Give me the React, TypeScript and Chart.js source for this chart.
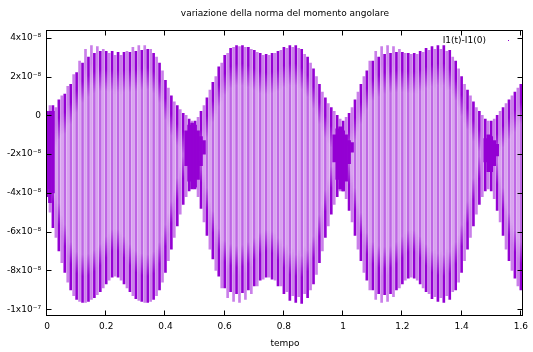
import { useEffect, useRef } from "react";
import { Chart, registerables } from "chart.js";

Chart.register(...registerables);

const TITLE = "variazione della norma del momento angolare";
const X_TITLE = "tempo";
const SERIES_LABEL = "I1(t)-I1(0)";
const SCALE = 1e-8;

const X_TICKS = [0, 0.2, 0.4, 0.6, 0.8, 1, 1.2, 1.4, 1.6];
const X_TICK_LABELS = ["0", "0.2", "0.4", "0.6", "0.8", "1", "1.2", "1.4", "1.6"];
const Y_TICKS = [4, 2, 0, -2, -4, -6, -8, -10];
const Y_TICK_LABELS = ["4x10⁻⁸", "2x10⁻⁸", "0", "-2x10⁻⁸", "-4x10⁻⁸", "-6x10⁻⁸", "-8x10⁻⁸", "-1x10⁻⁷"];

// dark strokes (units of 1e-8)
const darkT = [0, 0.02, 0.04, 0.06, 0.08, 0.1, 0.12, 0.14, 0.16, 0.18, 0.2, 0.22, 0.24, 0.26, 0.28, 0.3, 0.32, 0.34, 0.36, 0.38, 0.4, 0.42, 0.44, 0.46, 0.48, 0.5, 0.52, 0.54, 0.56, 0.58, 0.6, 0.62, 0.64, 0.66, 0.68, 0.7, 0.72, 0.74, 0.76, 0.78, 0.8, 0.82, 0.84, 0.86, 0.88, 0.9, 0.92, 0.94, 0.96, 0.98, 1, 1.02, 1.04, 1.06, 1.08, 1.1, 1.12, 1.14, 1.16, 1.18, 1.2, 1.22, 1.24, 1.26, 1.28, 1.3, 1.32, 1.34, 1.36, 1.38, 1.4, 1.42, 1.44, 1.46, 1.48, 1.5, 1.52, 1.54, 1.56, 1.58, 1.6];
const darkHi = [0.2, 0.5, 0.8, 1.1, 1.6, 2.2, 2.7, 3.0, 3.2, 3.3, 3.3, 3.3, 3.25, 3.25, 3.25, 3.3, 3.35, 3.4, 3.2, 2.7, 1.8, 1.0, 0.5, 0.1, -0.2, -0.3, 0.2, 0.9, 1.7, 2.5, 3.1, 3.45, 3.6, 3.6, 3.5, 3.35, 3.2, 3.15, 3.2, 3.3, 3.5, 3.6, 3.6, 3.4, 3.0, 2.4, 1.6, 0.9, 0.4, 0.0, -0.3, 0.1, 0.8, 1.6, 2.3, 2.8, 3.0, 3.15, 3.2, 3.25, 3.25, 3.2, 3.2, 3.3, 3.45, 3.55, 3.6, 3.6, 3.35, 2.8, 2.0, 1.3, 0.7, 0.2, -0.2, -0.3, 0.0, 0.4, 0.8, 1.2, 1.6];
const darkLo = [-4.2, -5.8, -7.0, -8.1, -9.0, -9.5, -9.65, -9.6, -9.4, -9.1, -8.7, -8.35, -8.35, -8.7, -9.1, -9.45, -9.6, -9.65, -9.5, -9.0, -8.1, -6.9, -5.7, -4.6, -3.9, -3.8, -4.8, -6.2, -7.4, -8.3, -8.9, -9.1, -9.2, -9.15, -9.0, -8.8, -8.5, -8.35, -8.45, -8.8, -9.2, -9.55, -9.65, -9.7, -9.4, -8.7, -7.6, -6.3, -5.1, -4.2, -3.9, -4.9, -6.2, -7.5, -8.5, -9.0, -9.2, -9.25, -9.2, -9.0, -8.7, -8.4, -8.4, -8.7, -9.1, -9.45, -9.6, -9.65, -9.5, -9.0, -8.1, -6.9, -5.7, -4.6, -3.9, -3.9, -4.9, -6.2, -7.5, -8.4, -9.0];

// light strokes
const lightT = [0.01, 0.03, 0.05, 0.07, 0.09, 0.11, 0.13, 0.15, 0.17, 0.19, 0.21, 0.23, 0.25, 0.27, 0.29, 0.31, 0.33, 0.35, 0.37, 0.39, 0.41, 0.43, 0.45, 0.47, 0.49, 0.51, 0.53, 0.55, 0.57, 0.59, 0.61, 0.63, 0.65, 0.67, 0.69, 0.71, 0.73, 0.75, 0.77, 0.79, 0.81, 0.83, 0.85, 0.87, 0.89, 0.91, 0.93, 0.95, 0.97, 0.99, 1.01, 1.03, 1.05, 1.07, 1.09, 1.11, 1.13, 1.15, 1.17, 1.19, 1.21, 1.23, 1.25, 1.27, 1.29, 1.31, 1.33, 1.35, 1.37, 1.39, 1.41, 1.43, 1.45, 1.47, 1.49, 1.51, 1.53, 1.55, 1.57, 1.59];
const lightHi = [0.5, 0.4, 1.0, 1.5, 2.1, 2.8, 3.4, 3.6, 3.55, 3.4, 3.2, 3.1, 3.1, 3.3, 3.5, 3.6, 3.6, 3.4, 3.0, 2.3, 1.4, 0.7, 0.3, 0.0, -0.3, -0.1, 0.5, 1.3, 2.0, 2.7, 3.2, 3.5, 3.55, 3.5, 3.4, 3.25, 3.1, 3.1, 3.2, 3.35, 3.45, 3.5, 3.45, 3.15, 2.7, 2.0, 1.2, 0.6, 0.2, -0.2, -0.1, 0.4, 1.2, 2.0, 2.8, 3.3, 3.55, 3.6, 3.55, 3.4, 3.2, 3.15, 3.15, 3.25, 3.35, 3.4, 3.4, 3.3, 3.0, 2.4, 1.6, 1.0, 0.4, 0.0, -0.3, -0.2, 0.2, 0.6, 1.0, 1.4];
const lightLo = [-5.0, -6.3, -7.6, -8.6, -9.3, -9.6, -9.65, -9.5, -9.25, -8.9, -8.5, -8.3, -8.5, -8.9, -9.3, -9.55, -9.65, -9.6, -9.3, -8.6, -7.5, -6.3, -5.1, -4.2, -3.7, -4.2, -5.5, -6.9, -8.0, -8.9, -9.4, -9.6, -9.65, -9.5, -9.2, -8.8, -8.45, -8.35, -8.5, -8.8, -9.1, -9.3, -9.35, -9.2, -9.0, -8.2, -7.0, -5.7, -4.6, -3.9, -4.3, -5.5, -6.9, -8.1, -9.0, -9.5, -9.65, -9.6, -9.35, -8.9, -8.5, -8.35, -8.5, -8.9, -9.2, -9.35, -9.4, -9.3, -9.1, -8.6, -7.5, -6.3, -5.1, -4.2, -3.8, -4.3, -5.5, -6.9, -8.0, -8.8];

// dense dark knots near the nodes
const knotT = [0, 0.01, 0.02, 0.47, 0.48, 0.49, 0.5, 0.51, 0.52, 0.53, 0.97, 0.98, 0.99, 1, 1.01, 1.02, 1.03, 1.48, 1.49, 1.5, 1.51, 1.52];
const knotHi = [0.0, 0.2, 0.2, -0.8, -0.5, -0.4, -0.5, -0.8, -1.1, -1.3, -1.0, -0.7, -0.6, -0.8, -1.0, -1.3, -1.4, -1.2, -1.0, -1.1, -1.3, -1.5];
const knotLo = [-3.8, -4.5, -4.0, -2.6, -3.4, -3.8, -3.7, -3.3, -2.6, -2.0, -2.4, -3.3, -3.8, -3.9, -3.4, -2.5, -1.9, -2.4, -2.9, -2.9, -2.6, -2.1];

const DARK = "#9400d3";
const DARK_INNER = "rgba(148,0,211,0.6)";
const LIGHT = "rgba(148,0,211,0.5)";
const LIGHT_INNER = "rgba(148,0,211,0.36)";
const FONT_FAMILY = "'DejaVu Sans', sans-serif";
const FONT_SIZE = 9;
const EDGE_TOP_PX = 18;
const EDGE_BOTTOM_PX = 26;
const FADE_PX = 22;

function bars(t: number[], hi: number[], lo: number[]) {
  return t.map((x, i) => ({ x, y: [lo[i] * SCALE, hi[i] * SCALE] }));
}

// solid near the envelope, paler in the middle of each stroke
function strokeFill(solid: string, inner: string) {
  return (c: any) => {
    const chart = c.chart;
    const raw = c.raw;
    const ys = chart && chart.scales ? chart.scales.y : null;
    if (!raw || !ys || !Array.isArray(raw.y)) return solid;
    const yTop = ys.getPixelForValue(raw.y[1]);
    const yBot = ys.getPixelForValue(raw.y[0]);
    const len = yBot - yTop;
    if (!isFinite(len) || len <= EDGE_TOP_PX + EDGE_BOTTOM_PX + 2 * FADE_PX) return solid;
    const g = chart.ctx.createLinearGradient(0, yTop, 0, yBot);
    const a = EDGE_TOP_PX / len;
    const b = 1 - EDGE_BOTTOM_PX / len;
    const f = FADE_PX / len;
    g.addColorStop(0, solid);
    g.addColorStop(a, solid);
    g.addColorStop(a + f, inner);
    g.addColorStop(b - f, inner);
    g.addColorStop(b, solid);
    g.addColorStop(1, solid);
    return g;
  };
}

const decor = {
  id: "decor",
  afterDatasetsDraw(chart: any) {
    const { ctx, chartArea: a, scales } = chart;
    ctx.save();
    const L = Math.round(a.left) - 0.5;
    const R = Math.round(a.right) - 0.5;
    const T = Math.round(a.top) + 0.5;
    const B = Math.round(a.bottom) - 0.5;
    ctx.strokeStyle = "#000";
    ctx.lineWidth = 1;
    ctx.strokeRect(L, T, R - L, B - T);
    ctx.beginPath();
    for (const v of X_TICKS) {
      const x = Math.round(scales.x.getPixelForValue(v)) - 0.5;
      ctx.moveTo(x, B);
      ctx.lineTo(x, B - 5);
      ctx.moveTo(x, T);
      ctx.lineTo(x, T + 5);
    }
    for (const v of Y_TICKS) {
      const y = Math.round(scales.y.getPixelForValue(v * SCALE)) + 0.5;
      ctx.moveTo(L, y);
      ctx.lineTo(L + 5, y);
      ctx.moveTo(R, y);
      ctx.lineTo(R - 5, y);
    }
    ctx.stroke();
    ctx.fillStyle = "#000";
    ctx.font = `${FONT_SIZE}px ${FONT_FAMILY}`;
    ctx.textBaseline = "middle";
    ctx.textAlign = "center";
    const cx = (a.left + a.right) / 2;
    ctx.fillText(TITLE, cx, 14);
    ctx.fillText(X_TITLE, cx, 344);
    ctx.textAlign = "right";
    ctx.fillText(SERIES_LABEL, 486, 41);
    ctx.fillStyle = DARK;
    ctx.fillRect(508, 40, 1, 1);
    ctx.restore();
  },
};

export default function App() {
  const ref = useRef<HTMLCanvasElement | null>(null);
  useEffect(() => {
    document.body.style.margin = "0";
    const canvas = ref.current;
    if (!canvas) return;
    const chart = new Chart(canvas, {
      type: "bar",
      data: {
        datasets: [
          {
            label: "knot",
            data: bars(knotT, knotHi, knotLo) as any,
            backgroundColor: DARK,
            barThickness: 3,
            grouped: false,
            borderWidth: 0,
          },
          {
            label: SERIES_LABEL,
            data: bars(darkT, darkHi, darkLo) as any,
            backgroundColor: strokeFill(DARK, DARK_INNER) as any,
            barThickness: 2,
            grouped: false,
            borderWidth: 0,
          },
          {
            label: "light",
            data: bars(lightT, lightHi, lightLo) as any,
            backgroundColor: strokeFill(LIGHT, LIGHT_INNER) as any,
            barThickness: 2,
            grouped: false,
            borderWidth: 0,
          },
        ],
      },
      plugins: [decor],
      options: {
        animation: false,
        responsive: false,
        devicePixelRatio: 1,
        layout: { padding: { top: 30, right: 4, left: 0, bottom: 0 } },
        plugins: { legend: { display: false }, tooltip: { enabled: false }, title: { display: false } },
        scales: {
          x: {
            type: "linear",
            min: 0,
            max: 1.6067,
            offset: false,
            grid: { display: false, drawTicks: false },
            border: { display: false },
            afterBuildTicks: (s: any) => {
              s.ticks = X_TICKS.map((v) => ({ value: v }));
            },
            afterFit: (s: any) => {
              s.height = 36;
            },
            ticks: {
              autoSkip: false,
              maxRotation: 0,
              padding: 5,
              color: "#000",
              font: { family: FONT_FAMILY, size: FONT_SIZE },
              callback: (v: any) => {
                const i = X_TICKS.findIndex((t) => Math.abs(t - Number(v)) < 1e-9);
                return i >= 0 ? X_TICK_LABELS[i] : "";
              },
            },
          },
          y: {
            type: "linear",
            min: -1.035e-7,
            max: 4.4e-8,
            grid: { display: false, drawTicks: false },
            border: { display: false },
            afterBuildTicks: (s: any) => {
              s.ticks = Y_TICKS.map((v) => ({ value: v * SCALE }));
            },
            afterFit: (s: any) => {
              s.width = 47;
            },
            ticks: {
              autoSkip: false,
              padding: 6,
              color: "#000",
              font: { family: FONT_FAMILY, size: FONT_SIZE },
              callback: (v: any) => {
                const i = Y_TICKS.findIndex((t) => Math.abs(t * SCALE - Number(v)) < 1e-12);
                return i >= 0 ? Y_TICK_LABELS[i] : "";
              },
            },
          },
        },
      },
    });
    return () => chart.destroy();
  }, []);
  return <canvas ref={ref} width={533} height={352} style={{ display: "block" }} />;
}
